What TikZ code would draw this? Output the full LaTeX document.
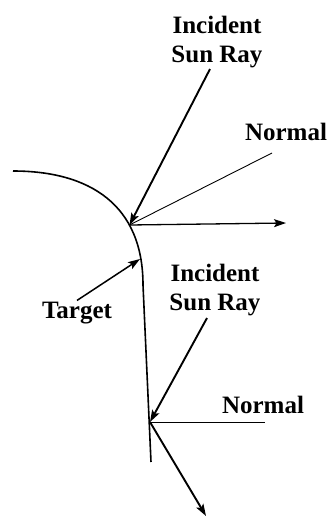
\documentclass[tikz,border=0pt]{standalone}
\usepackage{fontspec}
\setmainfont{Liberation Serif}
\usetikzlibrary{arrows.meta}

\begin{document}
\begin{tikzpicture}[x=1pt, y=-1pt,
  lbl/.style={font=\fontsize{25}{29}\selectfont\bfseries, align=center, inner sep=1pt},
  ray/.style={line width=1.9pt, -{Stealth[length=12pt, width=8pt, inset=2.5pt]}},
  normline/.style={line width=0.9pt},
  surf/.style={line width=1.6pt},
  ]
  \useasboundingbox (0,0) rectangle (330,517);
  % target surface
  \coordinate (p1) at (129.5,225);
  \coordinate (p2) at (150,422);
  \draw[surf] (13,171) .. controls (90,171) and (143,205) .. (143,285) -- (151,462);
  % labels
  \node[lbl, anchor=north] (inc1) at (217,15) {Incident\\Sun Ray};
  \node[lbl, anchor=base] (nrm1) at (286,140) {Normal};
  \node[lbl, anchor=base] (tgt) at (77,318) {Target};
  \node[lbl, anchor=north] (inc2) at (215,263) {Incident\\Sun Ray};
  \node[lbl, anchor=base] (nrm2) at (263,413) {Normal};
  % free ends
  \coordinate (s1) at (210,69);
  \coordinate (n1) at (272,153);
  \coordinate (r1) at (286,223);
  \coordinate (t1) at (140,259);
  \coordinate (s2) at (207,318);
  \coordinate (n2) at (265,422);
  \coordinate (r2) at (206,516);
  % upper point
  \draw[ray] (s1) -- (p1);
  \draw[normline] (n1) -- (p1);
  \draw[ray, line width=1.3pt] (p1) -- (r1);
  % target arrow
  \draw[ray, line width=1.5pt] (tgt.north) -- (t1);
  % lower point
  \draw[ray] (s2) -- (p2);
  \draw[normline] (p2) -- (n2);
  \draw[ray] (p2) -- (r2);
\end{tikzpicture}
\end{document}
